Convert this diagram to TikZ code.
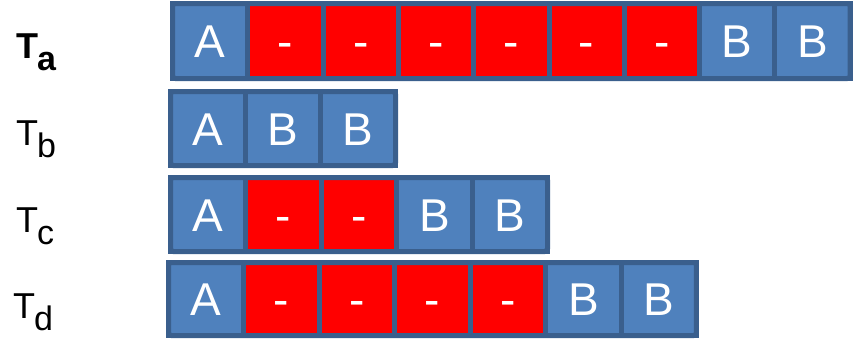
\documentclass[tikz,border=0pt]{standalone}
\usepackage{fontspec}
\setmainfont{Liberation Sans}
\definecolor{cellblue}{HTML}{4F81BD}
\definecolor{cellborder}{HTML}{3A5F8D}
\definecolor{cellred}{HTML}{FF0000}
\tikzset{
  cellbase/.style={draw=cellborder, line width=5pt, minimum width=75.4pt, minimum height=74pt,
    inner sep=0pt, outer sep=0pt, anchor=north west, text=white, font=\fontsize{46}{46}\selectfont,
    text height=33pt, text depth=0pt},
  bcell/.style={cellbase, fill=cellblue},
  rcell/.style={cellbase, fill=cellred},
  rowframe/.style={draw=cellborder, line width=5pt, rounded corners=3pt},
  lbl/.style={anchor=base west, inner sep=0pt, font=\fontsize{36}{36}\selectfont}
}
\newcommand{\subl}[1]{\raisebox{-12pt}{\fontsize{34}{34}\selectfont #1}}
\begin{document}
\begin{tikzpicture}[x=1pt,y=-1pt]
\useasboundingbox (0,0) rectangle (856,340);
% row a: A - - - - - - B B
\foreach \i/\t/\s in {1/A/bcell,2/-/rcell,3/-/rcell,4/-/rcell,5/-/rcell,6/-/rcell,7/-/rcell,8/B/bcell,9/B/bcell}
  \node[\s, minimum width=75.3pt, minimum height=75pt] (a\i) at ({172.5+(\i-1)*75.3},3.5) {\t};
\draw[rowframe] (a1.north west) rectangle (a9.south east);
% row b: A B B
\foreach \i/\t/\s in {1/A/bcell,2/B/bcell,3/B/bcell}
  \node[\s, minimum width=75pt] (b\i) at ({170.5+(\i-1)*75},91.5) {\t};
\draw[rowframe] (b1.north west) rectangle (b3.south east);
% row c: A - - B B
\foreach \i/\t/\s in {1/A/bcell,2/-/rcell,3/-/rcell,4/B/bcell,5/B/bcell}
  \node[\s] (c\i) at ({170.5+(\i-1)*75.4},177.5) {\t};
\draw[rowframe] (c1.north west) rectangle (c5.south east);
% row d: A - - - - B B
\foreach \i/\t/\s in {1/A/bcell,2/-/rcell,3/-/rcell,4/-/rcell,5/-/rcell,6/B/bcell,7/B/bcell}
  \node[\s, minimum height=73pt] (d\i) at ({168.5+(\i-1)*75.43},262.5) {\t};
\draw[rowframe] (d1.north west) rectangle (d7.south east);
% labels
\node[lbl, font=\bfseries\fontsize{36}{36}\selectfont] (la) at (16,58) {T\kern-1pt\subl{a}};
\node[lbl] (lb) at (16,145) {T\kern-1pt\subl{b}};
\node[lbl] (lc) at (16,232) {T\kern-1pt\subl{c}};
\node[lbl] (ld) at (13,318) {T\kern-1pt\subl{d}};
\end{tikzpicture}
\end{document}
